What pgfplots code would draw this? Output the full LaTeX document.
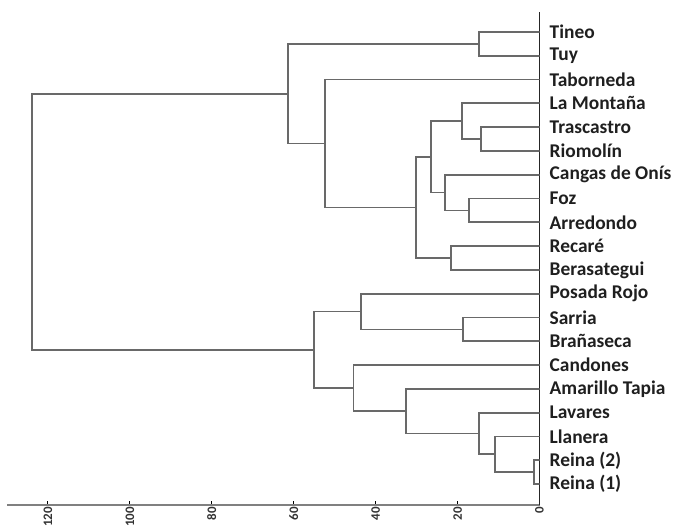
\documentclass[border=0pt]{standalone}
\usepackage{pgfplots}
\pgfplotsset{compat=1.18}
\usepackage{fontspec}
\setmainfont{Carlito}
\definecolor{dgray}{RGB}{105,105,105}
\begin{document}
\begin{tikzpicture}
\useasboundingbox (-7bp,-24bp) rectangle (668bp,505bp);
\begin{axis}[
 scale only axis, width=532.5bp, height=493bp,
 x dir=reverse, xmin=0, xmax=130, ymin=0.12, ymax=20.84,
 axis x line*=bottom, axis y line*=right,
 xtick={0,20,...,120}, ytick={1,...,20},
 yticklabels={Reina (1),Reina (2),Llanera,Lavares,Amarillo Tapia,Candones,Brañaseca,Sarria,Posada Rojo,Berasategui,Recaré,Arredondo,Foz,Cangas de Onís,Riomolín,Trascastro,La Montaña,Taborneda,Tuy,Tineo},
 /pgf/number format/assume math mode=true,
 xticklabel style={rotate=90, anchor=east, font=\fontsize{13}{14}\selectfont\bfseries, text=black!80, inner sep=2bp},
 yticklabel style={font=\fontsize{19.5}{21}\selectfont\bfseries, text=black!88, anchor=west, inner xsep=0pt, xshift=10bp},
 ytick style={draw=none},
 xtick align=inside, major tick length=4bp,
 xtick style={black, line width=1bp},
 x axis line style={draw=gray, line width=1.4bp},
 y axis line style={draw=black!85, line width=1.8bp},
 dend/.style={draw=dgray, line width=1.8bp, mark=none},
]
\addplot[dend] coordinates {(0,20)(14.7,20)(14.7,19)(0,19)};
\addplot[dend] coordinates {(0,16)(14.3,16)(14.3,15)(0,15)};
\addplot[dend] coordinates {(0,17)(19.0,17)(19.0,15.5)(14.3,15.5)};
\addplot[dend] coordinates {(0,13)(17.2,13)(17.2,12)(0,12)};
\addplot[dend] coordinates {(0,14)(23.1,14)(23.1,12.5)(17.2,12.5)};
\addplot[dend] coordinates {(19.0,16.25)(26.4,16.25)(26.4,13.25)(23.1,13.25)};
\addplot[dend] coordinates {(0,11)(21.6,11)(21.6,10)(0,10)};
\addplot[dend] coordinates {(26.4,14.75)(30.2,14.75)(30.2,10.5)(21.6,10.5)};
\addplot[dend] coordinates {(0,18)(52.4,18)(52.4,12.625)(30.2,12.625)};
\addplot[dend] coordinates {(14.7,19.5)(61.4,19.5)(61.4,15.3125)(52.4,15.3125)};
\addplot[dend] coordinates {(0,2)(1.3,2)(1.3,1)(0,1)};
\addplot[dend] coordinates {(0,3)(10.9,3)(10.9,1.5)(1.3,1.5)};
\addplot[dend] coordinates {(0,4)(14.7,4)(14.7,2.25)(10.9,2.25)};
\addplot[dend] coordinates {(0,5)(32.5,5)(32.5,3.125)(14.7,3.125)};
\addplot[dend] coordinates {(0,6)(45.4,6)(45.4,4.0625)(32.5,4.0625)};
\addplot[dend] coordinates {(0,8)(18.6,8)(18.6,7)(0,7)};
\addplot[dend] coordinates {(0,9)(43.6,9)(43.6,7.5)(18.6,7.5)};
\addplot[dend] coordinates {(43.6,8.25)(55.1,8.25)(55.1,5.03125)(45.4,5.03125)};
\addplot[dend] coordinates {(61.4,17.40625)(123.9,17.40625)(123.9,6.640625)(55.1,6.640625)};
\end{axis}
\end{tikzpicture}
\end{document}
